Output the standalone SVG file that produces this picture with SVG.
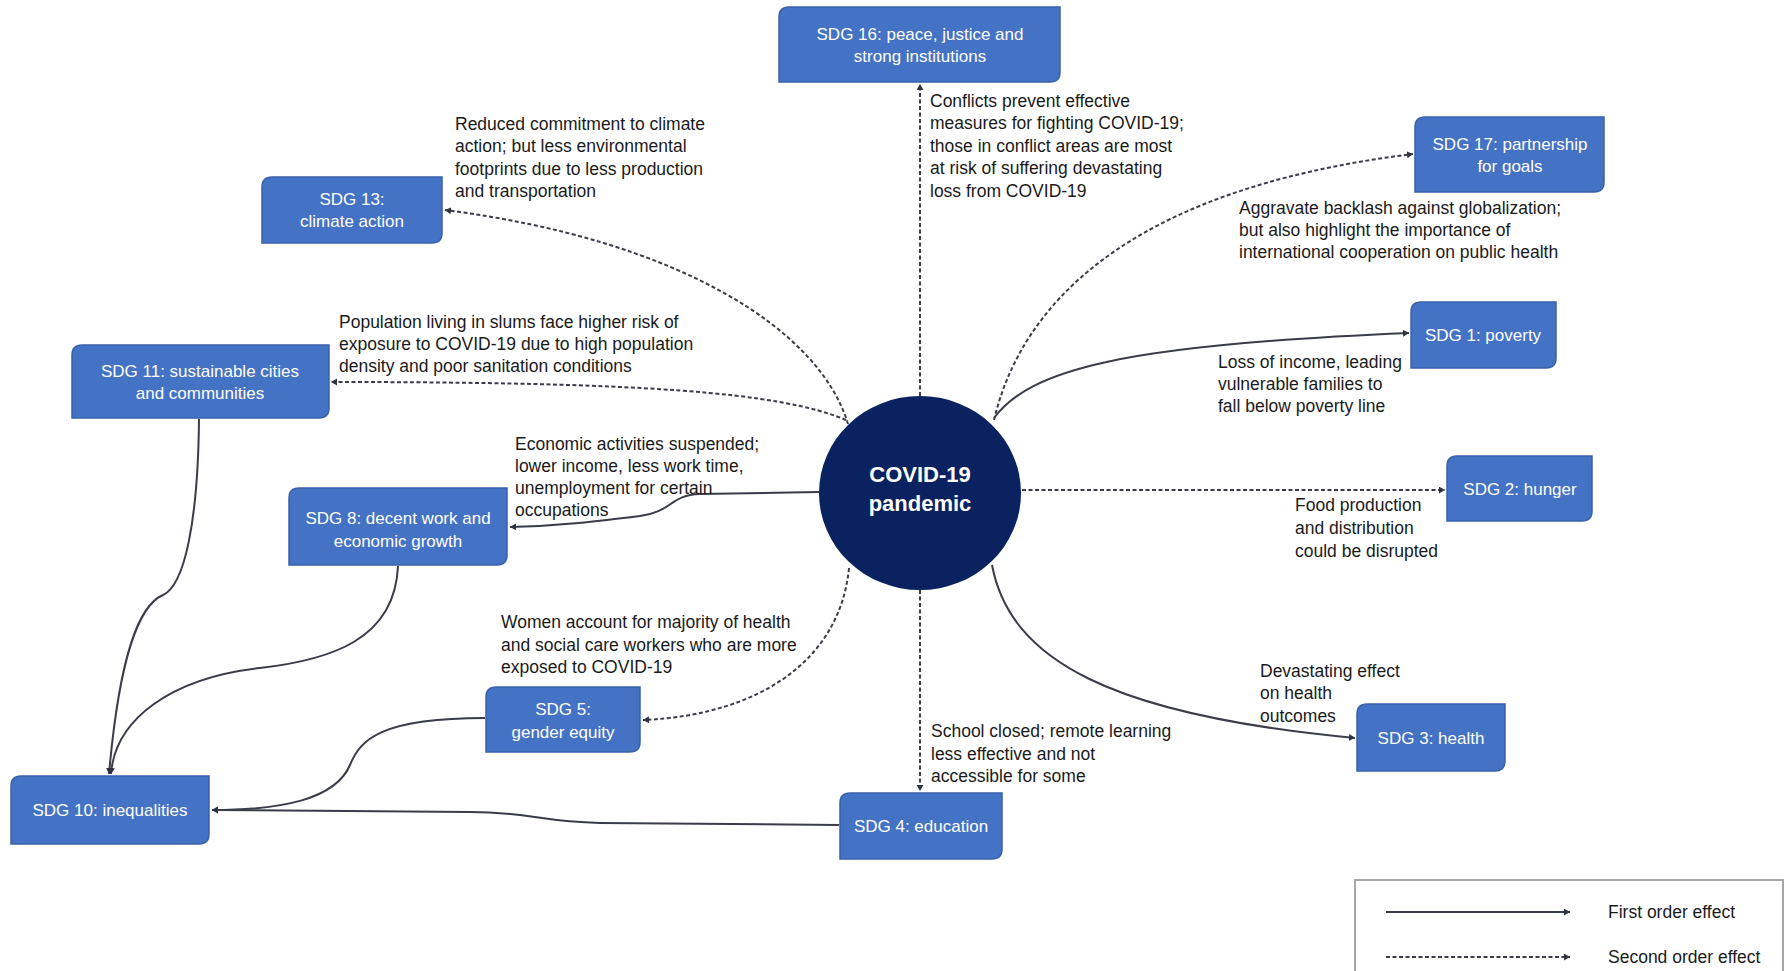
<svg xmlns="http://www.w3.org/2000/svg" width="1789" height="971" viewBox="0 0 1789 971">
  <style>
    .box { fill: #4472c4; stroke: #3a62ab; stroke-width: 1.5; }
    .bt { font-family: "Liberation Sans", Arial, sans-serif; font-size: 17px; fill: #ffffff; text-anchor: middle; dominant-baseline: central; }
    .note { font-family: "Liberation Sans", Arial, sans-serif; font-size: 17.5px; fill: #1a1a1a; dominant-baseline: central; }
    .first { fill: none; stroke: #3a3d48; stroke-width: 2; marker-end: url(#arrow); }
    .second { fill: none; stroke: #3a3d48; stroke-width: 2; stroke-dasharray: 4 2.5; marker-end: url(#arrow); }
    .hub { fill: #0b2260; }
    .hubt { font-family: "Liberation Sans", Arial, sans-serif; font-size: 22px; font-weight: bold; fill: #ffffff; text-anchor: middle; dominant-baseline: central; }
  </style>
  <defs>
    <marker id="arrow" markerUnits="userSpaceOnUse" markerWidth="8" markerHeight="8" refX="6" refY="3.5" orient="auto">
      <path d="M0,0 L6,3.5 L0,7 z" fill="#2e3340"/>
    </marker>
  </defs>

  <rect width="1789" height="971" fill="#ffffff"/>

  <!-- connectors -->
  <g id="connectors">
    <!-- pandemic to goals -->
    <path class="second" d="M920,396 L920,84"/>
    <path class="second" d="M848,424 C820,330 680,240 445,210"/>
    <path class="second" d="M846,420 C780,392 640,382 331,382"/>
    <path class="second" d="M994,420 C1020,310 1120,190 1413,154"/>
    <path class="first" d="M994,418 C1030,370 1120,345 1409,333"/>
    <path class="second" d="M1022,490 L1445,490"/>
    <path class="first" d="M992,565 C1010,660 1110,715 1355,738"/>
    <path class="second" d="M920,590 L920,791"/>
    <path class="second" d="M849,568 C840,660 760,715 643,720"/>
    <path class="first" d="M819,492 L700,494 C670,495 672,512 640,516 C600,521 560,526 510,527"/>
    <!-- goals feeding into inequalities -->
    <path class="first" d="M199,419 C198,520 185,585 163,595 C140,605 120,650 109,774"/>
    <path class="first" d="M398,566 C395,640 330,660 260,668 C170,678 115,720 111,774"/>
    <path class="first" d="M485,718 C380,718 360,740 350,765 C335,800 280,810 212,810"/>
    <path class="first" d="M839,825 L600,823 C540,822 530,812 470,812 L212,810"/>
  </g>

  <!-- central hub -->
  <g id="covid">
    <ellipse class="hub" cx="920" cy="493" rx="101" ry="97"/>
    <text class="hubt" x="920" y="474">COVID-19</text>
    <text class="hubt" x="920" y="503">pandemic</text>
  </g>

  <!-- goal boxes: rounded on top-left and bottom-right corners -->
  <g id="sdg16">
    <path class="box" d="M789,7 H1060 V72 Q1060,82 1050,82 H779 V17 Q779,7 789,7 Z"/>
    <text class="bt" x="920" y="34">SDG 16: peace, justice and</text>
    <text class="bt" x="920" y="56">strong institutions</text>
  </g>
  <g id="sdg13">
    <path class="box" d="M272,177 H442 V233 Q442,243 432,243 H262 V187 Q262,177 272,177 Z"/>
    <text class="bt" x="352" y="199">SDG 13:</text>
    <text class="bt" x="352" y="221">climate action</text>
  </g>
  <g id="sdg17">
    <path class="box" d="M1425,117 H1604 V182 Q1604,192 1594,192 H1415 V127 Q1415,117 1425,117 Z"/>
    <text class="bt" x="1510" y="144">SDG 17: partnership</text>
    <text class="bt" x="1510" y="166">for goals</text>
  </g>
  <g id="sdg11">
    <path class="box" d="M82,345 H329 V408 Q329,418 319,418 H72 V355 Q72,345 82,345 Z"/>
    <text class="bt" x="200" y="371">SDG 11: sustainable cities</text>
    <text class="bt" x="200" y="393">and communities</text>
  </g>
  <g id="sdg1">
    <path class="box" d="M1421,302 H1556 V358 Q1556,368 1546,368 H1411 V312 Q1411,302 1421,302 Z"/>
    <text class="bt" x="1483" y="335">SDG 1: poverty</text>
  </g>
  <g id="sdg8">
    <path class="box" d="M299,488 H507 V555 Q507,565 497,565 H289 V498 Q289,488 299,488 Z"/>
    <text class="bt" x="398" y="518">SDG 8: decent work and</text>
    <text class="bt" x="398" y="541">economic growth</text>
  </g>
  <g id="sdg2">
    <path class="box" d="M1457,456 H1592 V511 Q1592,521 1582,521 H1447 V466 Q1447,456 1457,456 Z"/>
    <text class="bt" x="1520" y="489">SDG 2: hunger</text>
  </g>
  <g id="sdg5">
    <path class="box" d="M496,687 H640 V742 Q640,752 630,752 H486 V697 Q486,687 496,687 Z"/>
    <text class="bt" x="563" y="709">SDG 5:</text>
    <text class="bt" x="563" y="732">gender equity</text>
  </g>
  <g id="sdg10">
    <path class="box" d="M21,776 H209 V834 Q209,844 199,844 H11 V786 Q11,776 21,776 Z"/>
    <text class="bt" x="110" y="810">SDG 10: inequalities</text>
  </g>
  <g id="sdg4">
    <path class="box" d="M850,793 H1002 V849 Q1002,859 992,859 H840 V803 Q840,793 850,793 Z"/>
    <text class="bt" x="921" y="826">SDG 4: education</text>
  </g>
  <g id="sdg3">
    <path class="box" d="M1367,704 H1505 V761 Q1505,771 1495,771 H1357 V714 Q1357,704 1367,704 Z"/>
    <text class="bt" x="1431" y="738">SDG 3: health</text>
  </g>

  <!-- effect descriptions -->
  <g id="notes">
    <text class="note" x="455" y="124">Reduced commitment to climate</text>
    <text class="note" x="455" y="146">action; but less environmental</text>
    <text class="note" x="455" y="169">footprints due to less production</text>
    <text class="note" x="455" y="191">and transportation</text>

    <text class="note" x="930" y="101">Conflicts prevent effective</text>
    <text class="note" x="930" y="123">measures for fighting COVID-19;</text>
    <text class="note" x="930" y="146">those in conflict areas are most</text>
    <text class="note" x="930" y="168">at risk of suffering devastating</text>
    <text class="note" x="930" y="191">loss from COVID-19</text>

    <text class="note" x="1239" y="208">Aggravate backlash against globalization;</text>
    <text class="note" x="1239" y="230">but also highlight the importance of</text>
    <text class="note" x="1239" y="252">international cooperation on public health</text>

    <text class="note" x="339" y="322">Population living in slums face higher risk of</text>
    <text class="note" x="339" y="344">exposure to COVID-19 due to high population</text>
    <text class="note" x="339" y="366">density and poor sanitation conditions</text>

    <text class="note" x="1218" y="362">Loss of income, leading</text>
    <text class="note" x="1218" y="384">vulnerable families to</text>
    <text class="note" x="1218" y="406">fall below poverty line</text>

    <text class="note" x="515" y="444">Economic activities suspended;</text>
    <text class="note" x="515" y="466">lower income, less work time,</text>
    <text class="note" x="515" y="488">unemployment for certain</text>
    <text class="note" x="515" y="510">occupations</text>

    <text class="note" x="1295" y="505">Food production</text>
    <text class="note" x="1295" y="528">and distribution</text>
    <text class="note" x="1295" y="551">could be disrupted</text>

    <text class="note" x="501" y="622">Women account for majority of health</text>
    <text class="note" x="501" y="645">and social care workers who are more</text>
    <text class="note" x="501" y="667">exposed to COVID-19</text>

    <text class="note" x="1260" y="671">Devastating effect</text>
    <text class="note" x="1260" y="693">on health</text>
    <text class="note" x="1260" y="716">outcomes</text>

    <text class="note" x="931" y="731">School closed; remote learning</text>
    <text class="note" x="931" y="754">less effective and not</text>
    <text class="note" x="931" y="776">accessible for some</text>
  </g>

  <!-- legend -->
  <g id="legend">
    <rect x="1355" y="880" width="428" height="100" fill="#ffffff" stroke="#a6a6a6" stroke-width="2"/>
    <path class="first" d="M1386,912 L1570,912"/>
    <path class="second" d="M1386,957 L1570,957"/>
    <text class="note" x="1608" y="912">First order effect</text>
    <text class="note" x="1608" y="957">Second order effect</text>
  </g>
</svg>
